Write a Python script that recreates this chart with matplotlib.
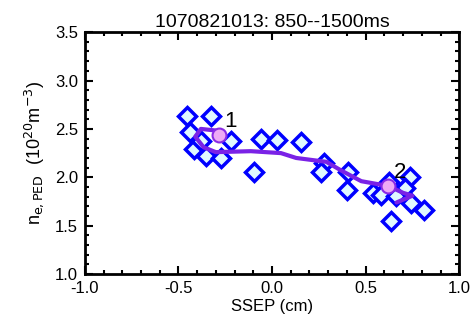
import matplotlib as mpl
mpl.use('Agg')
import matplotlib.pyplot as plt
from matplotlib.ticker import MultipleLocator
import numpy as np

plt.rcParams['font.family'] = ['Liberation Sans', 'DejaVu Sans']

# measured points (SSEP in cm, pedestal density in 1e20 m^-3)
ssep = [-0.456, -0.327, -0.44, -0.418, -0.354, -0.273, -0.22, -0.38,
        -0.059, 0.027, 0.155, -0.097, 0.279, 0.263, 0.407, 0.402,
        0.54, 0.627, 0.735, 0.708, 0.745, 0.81, 0.638, 0.58, 0.66]
ne_ped = [2.63, 2.63, 2.47, 2.29, 2.22, 2.20, 2.37, 2.38,
          2.40, 2.39, 2.36, 2.05, 2.15, 2.06, 2.05, 1.87,
          1.84, 1.95, 2.00, 1.89, 1.73, 1.66, 1.55, 1.82, 1.81]

# smoothed trajectory
traj_x = [-0.284, -0.38, -0.41, -0.365, -0.30, -0.113, 0.048, 0.129,
          0.209, 0.29, 0.37, 0.477, 0.622, 0.70, 0.75, 0.665]
traj_y = [2.48, 2.50, 2.42, 2.31, 2.26, 2.27, 2.25, 2.20,
          2.18, 2.16, 2.07, 1.96, 1.91, 1.84, 1.81, 1.74]

# numbered time points
pt_x = [-0.284, 0.622]
pt_y = [2.44, 1.91]
pt_lab = ['1', '2']

fig = plt.figure(figsize=(4.71, 3.21), dpi=100)
ax = fig.add_axes([0.180, 0.146, 0.795, 0.754])

ax.plot(ssep, ne_ped, 'D', ms=9, mfc='#e0f8ff', mec='#0000ff', mew=2.5,
        linestyle='none', zorder=2)
ax.plot(traj_x, traj_y, '-', color='#7a22e6', lw=3, zorder=3,
        solid_capstyle='round', solid_joinstyle='round')
ax.plot(pt_x, pt_y, 'o', ms=10, mfc='#eeaaf5', mec='#8a2be6', mew=1.5,
        linestyle='none', zorder=4)
for x, y, s in zip(pt_x, pt_y, pt_lab):
    ax.text(x + 0.03, y + 0.03, s, fontsize=16, ha='left', va='bottom',
            zorder=5)

ax.set_xlim(-1.0, 1.0)
ax.set_ylim(1.0, 3.5)
ax.xaxis.set_major_locator(MultipleLocator(0.5))
ax.xaxis.set_minor_locator(MultipleLocator(0.1))
ax.yaxis.set_major_locator(MultipleLocator(0.5))
ax.yaxis.set_minor_locator(MultipleLocator(0.1))
ax.xaxis.set_major_formatter(mpl.ticker.FormatStrFormatter('%.1f'))
ax.yaxis.set_major_formatter(mpl.ticker.FormatStrFormatter('%.1f'))
ax.tick_params(which='both', direction='in', top=True, right=True,
               width=1.5, labelsize=12)
ax.tick_params(which='major', length=6, pad=5)
ax.tick_params(which='minor', length=3)
for sp in ax.spines.values():
    sp.set_linewidth(2)

ax.set_xlabel('SSEP (cm)', fontsize=12, labelpad=2)
ax.set_ylabel(r'n$_{\rm e,PED}$  (10$^{20}$m$^{-3}$)', fontsize=13,
              labelpad=6)
ax.set_title('1070821013: 850--1500ms', fontsize=14, pad=4)

plt.savefig('out.png', dpi=100)
